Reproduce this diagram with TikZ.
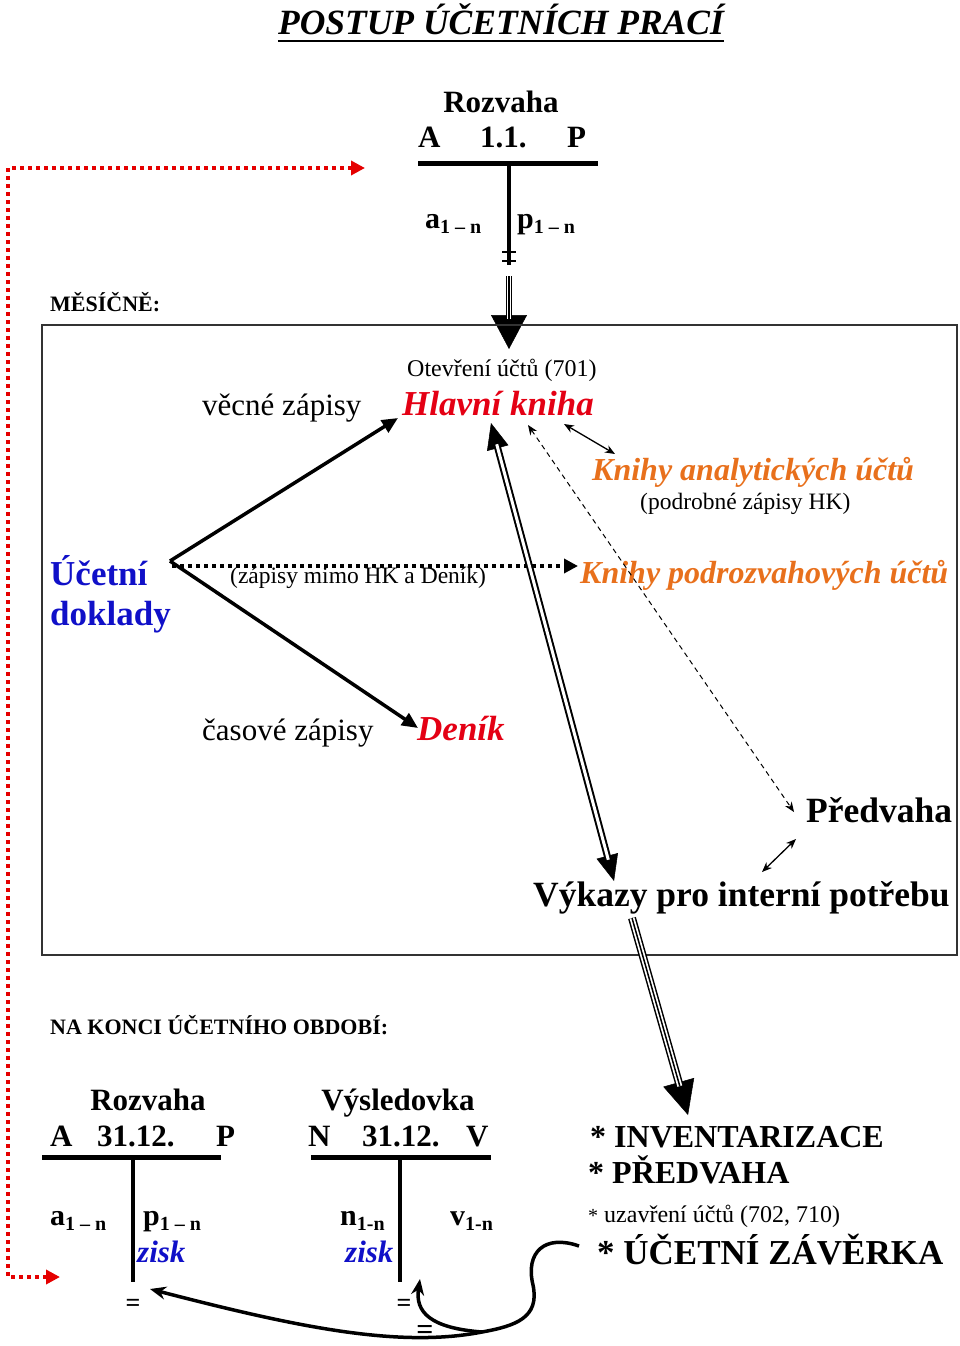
\documentclass[tikz,border=0pt]{standalone}
\usepackage{fontspec}
\setmainfont{Liberation Serif}
\usepackage{xcolor}
\usetikzlibrary{arrows.meta,positioning}

\definecolor{hkred}{RGB}{228,0,20}
\definecolor{knorange}{RGB}{232,112,28}
\definecolor{udblue}{RGB}{16,16,200}

\newcommand{\fs}[1]{\fontsize{#1}{#1}\selectfont}
\newcommand{\sbx}[1]{\raisebox{-5pt}{\fs{20}#1}}

\tikzset{
  txt/.style={inner sep=0pt, anchor=base west},
  big/.style={txt, font=\fs{31}\bfseries},
  book/.style={txt, font=\fs{35}\bfseries\itshape},
  note/.style={txt, font=\fs{24}},
  tacc/.style={line width=5pt},
  tbar/.style={line width=4pt},
  solidarr/.style={line width=3.5pt, -{Triangle[length=16pt,width=14pt]}},
  dotarr/.style={line width=4pt, dash pattern=on 4pt off 4pt, -{Triangle[length=14pt,width=14pt]}},
  reddot/.style={red!90!black, line width=4pt, dash pattern=on 4pt off 4pt},
  thinarr/.style={line width=1.3pt, {Stealth[length=10pt,width=8pt]}-{Stealth[length=10pt,width=8pt]}},
  curvarr/.style={line width=3.5pt, -{Stealth[length=16pt,width=13pt]}}
}

\begin{document}
\begin{tikzpicture}[x=1pt,y=-1pt]
\useasboundingbox (0,0) rectangle (960,1346);

\node[txt, anchor=base, font=\fs{35.5}\bfseries\itshape] (title) at (501,35) {POSTUP ÚČETNÍCH PRACÍ};
\draw[line width=1.6pt] ([yshift=-6pt]title.base west) -- ([yshift=-6pt]title.base east);

% Rozvaha 1.1.
\node[big, anchor=base] (rz) at (501,112) {Rozvaha};
\node[big] (rzA) at (418,147) {A};
\node[big] (rzD) at (480,147) {1.1.};
\node[big] (rzP) at (567,147) {P};
\coordinate (tl) at (418,163);
\coordinate (tr) at (598,163);
\coordinate (tm) at (509,163);
\coordinate (te) at (509,265);
\draw[tacc] (tl) -- (tr);
\draw[tbar] (tm) -- (te);
\draw[line width=2pt] (502,252) -- (516,252) (502,261) -- (516,261);
\node[txt, font=\fs{30}\bfseries] (ra) at (425,228) {a\sbx{1 – n}};
\node[txt, font=\fs{30}\bfseries] (rp) at (517,228) {p\sbx{1 – n}};

\coordinate (ts) at (509,276);
\coordinate (hktop) at (509,349);
\draw[line width=0.5pt, -{Triangle[length=34pt,width=36pt]}] (ts) -- (hktop);
\draw[double, line width=1.3pt, double distance=3.5pt, shorten >=30pt] (ts) -- (hktop);
\draw[line width=1.3pt, shorten >=30pt] (ts) -- (hktop);

\node[txt, font=\fs{22}\bfseries] (mes) at (50,311) {MĚSÍČNĚ:};
\draw[line width=1.5pt, black!80] (42,325) rectangle (957,955);

% inside the box
\node[note] (otv) at (407,376) {Otevření účtů (701)};
\node[book, text=hkred] (hk) at (402,415) {Hlavní kniha};
\node[txt, font=\fs{31}] (vec) at (202,415) {věcné zápisy};
\node[txt, font=\fs{32}\bfseries\itshape, text=knorange] (kan) at (592,480) {Knihy analytických účtů};
\node[txt, font=\fs{23.5}] (pod) at (640,509) {(podrobné zápisy HK)};
\node[txt, font=\fs{35}\bfseries, text=udblue] (ud) at (50,585) {Účetní};
\node[txt, font=\fs{35}\bfseries, text=udblue] (ud2) at (50,625) {doklady};
\node[txt, font=\fs{23.5}] (mimo) at (230,583) {(zápisy mimo HK a Deník)};
\node[txt, font=\fs{32}\bfseries\itshape, text=knorange] (kpr) at (580,583) {Knihy podrozvahových účtů};
\node[txt, font=\fs{31}] (cas) at (202,740) {časové zápisy};
\node[book, text=hkred] (den) at (417,740) {Deník};
\node[txt, font=\fs{35.5}\bfseries] (pv) at (806,822) {Předvaha};
\node[txt, font=\fs{35.5}\bfseries] (vyk) at (533,906) {Výkazy pro interní potřebu};

\coordinate (src) at (170,561);
\coordinate (src2) at (172,566);
\coordinate (hkin) at (398,418);
\coordinate (denin) at (418,728);
\coordinate (kprin) at (578,566);
\draw[solidarr] (src) -- (hkin);
\draw[solidarr] (src) -- (denin);
\draw[dotarr] (src2) -- (kprin);

\coordinate (hkdown) at (491,423);
\coordinate (vykup) at (614,881);
\draw[line width=0.5pt, {Triangle[length=26pt,width=22pt]}-{Triangle[length=26pt,width=22pt]}] (hkdown) -- (vykup);
\draw[double, line width=2pt, double distance=3pt, shorten <=22pt, shorten >=22pt] (hkdown) -- (vykup);

\coordinate (hkdash) at (528,425);
\coordinate (pvdash) at (794,812);
\draw[line width=1pt, dash pattern=on 5pt off 4pt, {Stealth[length=10pt,width=8pt]}-{Stealth[length=10pt,width=8pt]}] (hkdash) -- (pvdash);
\draw[thinarr] (564,424) -- (615,454);
\draw[thinarr] (762,872) -- (796,839);

% konec obdobi
\node[txt, font=\fs{22}\bfseries] (konec) at (50,1034) {NA KONCI ÚČETNÍHO OBDOBÍ:};

\coordinate (vykdown) at (632,918);
\coordinate (invup) at (688,1115);
\draw[line width=0.5pt, -{Triangle[length=34pt,width=32pt]}] (vykdown) -- (invup);
\draw[double, line width=1.5pt, double distance=5pt, shorten >=30pt] (vykdown) -- (invup);
\draw[line width=1.5pt, shorten >=30pt] (vykdown) -- (invup);

\node[big, anchor=base] (rz2) at (148,1110) {Rozvaha};
\node[big] (rz2A) at (50,1146) {A};
\node[big] (rz2D) at (97,1146) {31.12.};
\node[big] (rz2P) at (216,1146) {P};
\draw[tacc] (42,1157) -- (221,1157);
\coordinate (rzb) at (133,1282);
\draw[tbar] (133,1157) -- (rzb);
\node[txt, font=\fs{30}\bfseries] (ra2) at (50,1225) {a\sbx{1 – n}};
\node[txt, font=\fs{30}\bfseries] (rp2) at (143,1225) {p\sbx{1 – n}};
\node[txt, font=\fs{31}\bfseries\itshape, text=udblue] (zisk) at (137,1262) {zisk};
\node[txt, anchor=base, font=\fs{26}\bfseries] (eq1) at (133,1311) {=};

\node[big, anchor=base] (vys) at (398,1110) {Výsledovka};
\node[big] (vysN) at (308,1146) {N};
\node[big] (vysD) at (362,1146) {31.12.};
\node[big] (vysV) at (466,1146) {V};
\draw[tacc] (311,1157) -- (491,1157);
\coordinate (vsb) at (400,1282);
\draw[tbar] (400,1157) -- (vsb);
\node[txt, font=\fs{30}\bfseries] (vn) at (340,1225) {n\sbx{1-n}};
\node[txt, font=\fs{30}\bfseries] (vv) at (450,1225) {v\sbx{1-n}};
\node[txt, font=\fs{31}\bfseries\itshape, text=udblue] (zisk2) at (345,1262) {zisk};
\node[txt, anchor=base, font=\fs{26}\bfseries] (eq2) at (404,1311) {=};
\node[txt, anchor=base, font=\fs{30}\bfseries] (eq3) at (425,1339) {=};

\node[txt, font=\fs{32}\bfseries] (inv) at (590,1147) {* INVENTARIZACE};
\node[txt, font=\fs{32}\bfseries] (pv2) at (588,1183) {* PŘEDVAHA};
\node[txt, font=\fs{24}] (uz) at (588,1222) {{\fs{20}*} uzavření účtů (702, 710)};
\node[txt, font=\fs{35}\bfseries] (uz2) at (597,1264) {* ÚČETNÍ ZÁVĚRKA};

% zisk prevod
\coordinate (cs) at (579,1246);
\coordinate (cm) at (482,1332);
\coordinate (rzin) at (150,1289);
\coordinate (vsin) at (420,1279);
\draw[curvarr] (cs) .. controls (545,1234) and (525,1252) .. (533,1285)
  .. controls (540,1318) and (515,1326) .. (cm)
  .. controls (400,1348) and (300,1328) .. (rzin);
\draw[curvarr] (cm) .. controls (430,1328) and (415,1312) .. (vsin);

% vazba na pocatek
\coordinate (rtop) at (365,168);
\coordinate (rleft) at (8,1277);
\coordinate (rbot) at (60,1277);
\draw[reddot, {Triangle[length=14pt,width=14pt]}-{Triangle[length=14pt,width=14pt]}] (rtop) -| (rleft) -- (rbot);
\end{tikzpicture}
\end{document}
